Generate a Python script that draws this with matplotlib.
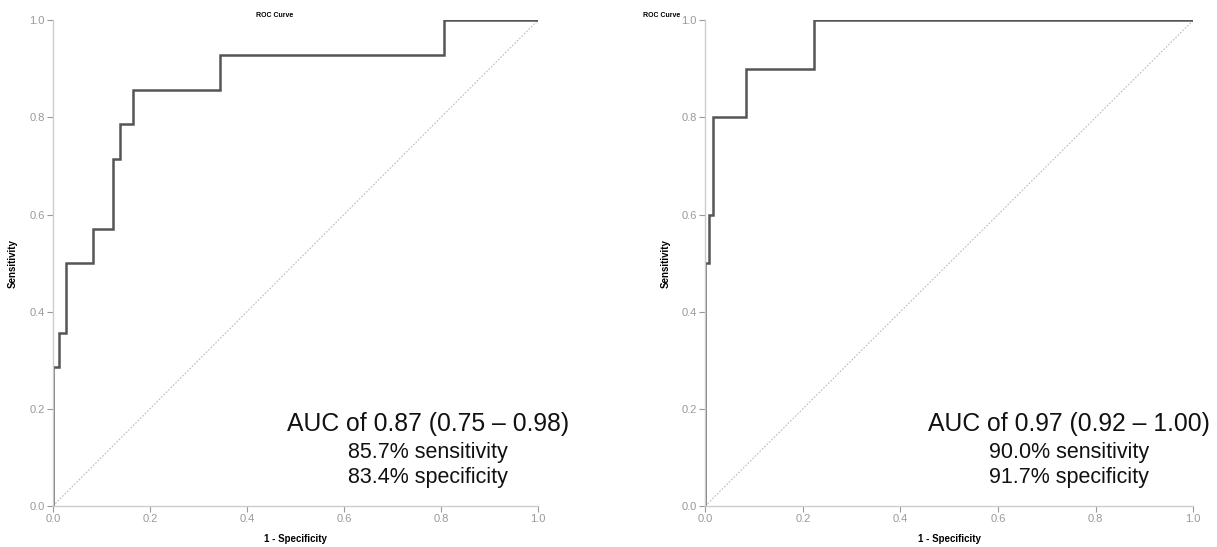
import matplotlib.pyplot as plt

plt.rcParams['font.family'] = ['Liberation Sans', 'DejaVu Sans']

# Curva ROC - modelo 1
fpr_1 = [0.0, 0.0, 0.012, 0.012, 0.027, 0.027, 0.082, 0.082, 0.124, 0.124,
         0.138, 0.138, 0.166, 0.166, 0.344, 0.344, 0.806, 0.806, 1.0]
tpr_1 = [0.0, 0.286, 0.286, 0.357, 0.357, 0.5, 0.5, 0.571, 0.571, 0.714,
         0.714, 0.786, 0.786, 0.857, 0.857, 0.929, 0.929, 1.0, 1.0]

# Curva ROC - modelo 2
fpr_2 = [0.0, 0.0, 0.007, 0.007, 0.015, 0.015, 0.083, 0.083, 0.222, 0.222, 1.0]
tpr_2 = [0.0, 0.5, 0.5, 0.6, 0.6, 0.8, 0.8, 0.9, 0.9, 1.0, 1.0]

textos_1 = ['AUC of 0.87 (0.75 \u2013 0.98)', '85.7% sensitivity', '83.4% specificity']
textos_2 = ['AUC of 0.97 (0.92 \u2013 1.00)', '90.0% sensitivity', '91.7% specificity']

ticks = [0.0, 0.2, 0.4, 0.6, 0.8, 1.0]

fig = plt.figure(figsize=(12.17, 5.47), dpi=100)
ax1 = fig.add_axes([0.0435, 0.075, 0.3985, 0.888])
ax2 = fig.add_axes([0.5795, 0.075, 0.401, 0.888])

paneles = [(ax1, fpr_1, tpr_1, textos_1, 0.773), (ax2, fpr_2, tpr_2, textos_2, 0.746)]

for ax, fpr, tpr, textos, xt in paneles:
    ax.plot([0, 1], [0, 1], color='#bbbbbb', linestyle=(0, (1.5, 1.5)), linewidth=0.8)
    ax.plot(fpr, tpr, color='#555555', linewidth=1.8, solid_joinstyle='miter')
    ax.set_xlim(0, 1)
    ax.set_ylim(0, 1)
    ax.set_xticks(ticks)
    ax.set_yticks(ticks)
    ax.set_xticklabels(['%.1f' % t for t in ticks])
    ax.set_yticklabels(['%.1f' % t for t in ticks])
    for s in ['top', 'right']:
        ax.spines[s].set_visible(False)
    for s in ['left', 'bottom']:
        ax.spines[s].set_color('#cccccc')
        ax.spines[s].set_linewidth(1.0)
    ax.tick_params(colors='#999999', labelsize=8, length=4, width=0.8, pad=2)
    ax.set_xlabel('1 - Specificity', fontsize=7, fontweight='bold', labelpad=7)
    ax.set_ylabel('Sensitivity', fontsize=7, fontweight='bold', labelpad=8)
    ax.text(xt, 0.169, textos[0], fontsize=17.8, ha='center', va='center', color='#111111')
    ax.text(xt, 0.111, textos[1], fontsize=15.5, ha='center', va='center', color='#111111')
    ax.text(xt, 0.059, textos[2], fontsize=15.5, ha='center', va='center', color='#111111')

fig.text(0.226, 0.972, 'ROC Curve', fontsize=5, fontweight='bold', ha='center', va='center')
fig.text(0.544, 0.972, 'ROC Curve', fontsize=5, fontweight='bold', ha='center', va='center')

plt.savefig('out.png', dpi=100)
